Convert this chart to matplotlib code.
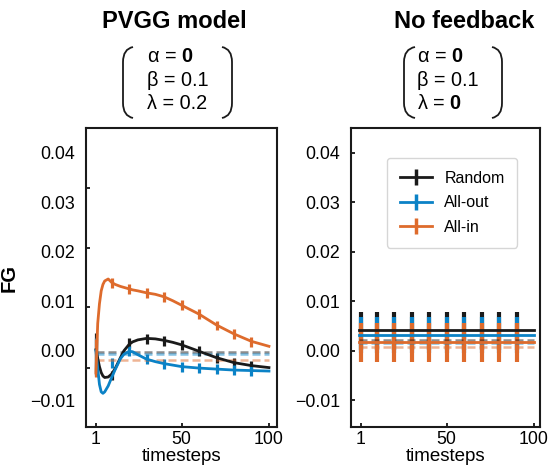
import matplotlib
matplotlib.use('Agg')
import matplotlib.pyplot as plt
from matplotlib.path import Path
from matplotlib.patches import PathPatch
from matplotlib.lines import Line2D

plt.rcParams.update({
    'font.family': 'Liberation Sans',
    'mathtext.fontset': 'custom',
    'mathtext.rm': 'Liberation Sans',
    'mathtext.bf': 'Liberation Sans:bold',
    'axes.linewidth': 1.5, 'axes.edgecolor': '#1a1a1a',
    'xtick.direction': 'in', 'ytick.direction': 'in',
    'xtick.major.size': 3, 'ytick.major.size': 3,
    'xtick.major.width': 1.2, 'ytick.major.width': 1.2,
    'xtick.labelsize': 12.8, 'ytick.labelsize': 12.8,
})

BLACK, BLUE, ORANGE = '#1a1a1a', '#0b82c6', '#de6b2c'
W, H = 549, 473

# PVGG model panel: model curves
t_model = [1, 2, 3, 4, 5, 6, 8, 10, 12, 15, 17, 20, 22, 25, 30, 35, 40, 45, 50, 60, 70, 80, 90, 100]
random_model = [0.0002, -0.0015, -0.0032, -0.0044, -0.0051, -0.0054, -0.0053, -0.0047, -0.0036, -0.0014,
                0.0000, 0.0013, 0.0018, 0.0022, 0.0025, 0.0024, 0.0021, 0.0017, 0.0012, -0.0001,
                -0.0014, -0.0024, -0.0030, -0.0034]
allout_model = [0.0000, -0.0035, -0.0068, -0.0083, -0.0086, -0.0083, -0.0071, -0.0054, -0.0038, -0.0016,
                -0.0007, -0.0001, -0.0002, -0.0008, -0.0017, -0.0022, -0.0026, -0.0029, -0.0032, -0.0035,
                -0.0037, -0.0039, -0.0040, -0.0041]
allin_model = [-0.0045, 0.0055, 0.0095, 0.0121, 0.0134, 0.0141, 0.0145, 0.0138, 0.0134, 0.0130,
               0.0128, 0.0125, 0.0123, 0.0121, 0.0117, 0.0114, 0.0109, 0.0101, 0.0092, 0.0074,
               0.0052, 0.0034, 0.0019, 0.0009]

# PVGG model panel: simulation means +/- error
t_sim = [1, 10, 20, 30, 40, 50, 60, 70, 80, 90]
random_sim = [-0.0003, -0.0050, 0.0016, 0.0024, 0.0019, 0.0012, -0.0001, -0.0015, -0.0024, -0.0030]
allout_sim = [-0.0012, -0.0025, -0.0001, -0.0017, -0.0026, -0.0032, -0.0035, -0.0037, -0.0039, -0.0040]
allin_sim = [-0.0015, 0.0136, 0.0124, 0.0117, 0.0109, 0.0092, 0.0074, 0.0051, 0.0034, 0.0018]
random_sim_err = [0.0039, 0.0010, 0.0010, 0.0010, 0.0010, 0.0010, 0.0010, 0.0010, 0.0010, 0.0010]
allout_sim_err = [0.0038, 0.0010, 0.0010, 0.0010, 0.0010, 0.0010, 0.0010, 0.0010, 0.0010, 0.0010]
allin_sim_err = [0.0038, 0.0010, 0.0010, 0.0010, 0.0010, 0.0010, 0.0010, 0.0010, 0.0010, 0.0010]
pvgg_baseline = {'Random': -0.0003, 'All-out': -0.0007, 'All-in': -0.0019}

# No feedback panel
t_flat = [0, 100]
nf_random_model = [0.0041, 0.0041]
nf_allout_model = [0.0031, 0.0031]
nf_allin_model = [0.0017, 0.0017]
nf_random_sim = [0.0040, 0.0040, 0.0040, 0.0040, 0.0040, 0.0040, 0.0040, 0.0040, 0.0040, 0.0040]
nf_allout_sim = [0.0032, 0.0032, 0.0032, 0.0032, 0.0032, 0.0032, 0.0032, 0.0032, 0.0032, 0.0032]
nf_allin_sim = [0.0017, 0.0017, 0.0017, 0.0017, 0.0017, 0.0017, 0.0017, 0.0017, 0.0017, 0.0017]
nf_random_err = [0.0039] * 10
nf_allout_err = [0.0037] * 10
nf_allin_err = [0.0039] * 10
nf_baseline = {'Random': 0.0021, 'All-out': 0.0015, 'All-in': 0.0008}

labels = ['Random', 'All-out', 'All-in']
colors = [BLACK, BLUE, ORANGE]

fig = plt.figure(figsize=(W / 100, H / 100), dpi=100)
axL = fig.add_axes([86 / W, 1 - 427 / H, 191 / W, 299 / H])
axR = fig.add_axes([351 / W, 1 - 427 / H, 189 / W, 299 / H])


def draw_panel(ax, t_line, lines, t_err, means, errs, base, ewidth, t_base):
    for m, e, c in zip(means, errs, colors):
        ax.errorbar(t_err, m, yerr=e, fmt='none', ecolor=c, elinewidth=ewidth, capsize=0, zorder=2)
    for lab, c in zip(labels, colors):
        ax.plot(t_base, [base[lab]] * len(t_base), color=c, alpha=0.5, lw=1.8,
                dashes=(3.2, 1.6), zorder=3)
    for y, c in zip(lines, colors):
        ax.plot(t_line, y, color=c, lw=2, zorder=4)


draw_panel(axL, t_model, [random_model, allout_model, allin_model], t_sim,
           [random_sim, allout_sim, allin_sim], [random_sim_err, allout_sim_err, allin_sim_err],
           pvgg_baseline, 2.3, [1, 100])
draw_panel(axR, t_flat, [nf_random_model, nf_allout_model, nf_allin_model], t_sim,
           [nf_random_sim, nf_allout_sim, nf_allin_sim], [nf_random_err, nf_allout_err, nf_allin_err],
           nf_baseline, 3.0, [0, 100])

yt = [-0.01, 0.0, 0.01, 0.02, 0.03, 0.04]
ytl = ['\u22120.01', '0.00', '0.01', '0.02', '0.03', '0.04']
for ax, xl in ((axL, (-4.7, 104.6)), (axR, (-4.7, 103.4))):
    ax.set_xlim(*xl)
    ax.set_ylim(-0.0154, 0.045)
    ax.set_xticks([1, 50, 100])
    ax.set_yticks(yt)
    ax.set_yticklabels(ytl)
    ax.tick_params(axis='y', pad=8)
    ax.tick_params(axis='x', pad=3)
    ax.set_xlabel('timesteps', fontsize=13.5, labelpad=0)

# left panel: tick marks sit off the label positions in the original
axL.tick_params(axis='y', which='major', length=0)
axL.set_yticks([-0.0035, 0.0088, 0.0207, 0.0329], minor=True)
axL.tick_params(axis='y', which='minor', length=3, width=1.2, direction='in')
axL.set_ylabel('FG', fontsize=14.5, fontweight='bold', labelpad=8)

handles = [Line2D([], [], color=c, lw=2, marker='|', markersize=11, markeredgewidth=2.5)
           for c in colors]
axR.legend(handles, labels, loc='upper left', bbox_to_anchor=(0.19, 0.90), borderaxespad=0,
           fontsize=11.5, numpoints=1, handlelength=2.0, handletextpad=0.8,
           borderpad=0.8, labelspacing=0.6)

# titles and parameter blocks
fig.text(174 / W, 1 - 21 / H, 'PVGG model', ha='center', va='center', fontsize=17, fontweight='bold')
fig.text(464 / W, 1 - 21 / H, 'No feedback', ha='center', va='center', fontsize=17, fontweight='bold')
params_left = ['α = $\\mathbf{0}$', 'β = 0.1', 'λ = 0.2']
params_right = ['α = $\\mathbf{0}$', 'β = 0.1', 'λ = $\\mathbf{0}$']
for x0, lines in ((147, params_left), (417, params_right)):
    for y0, s in zip((57, 81, 103.5), lines):
        fig.text(x0 / W, 1 - y0 / H, s, ha='left', va='center', fontsize=14.3)


def paren(xo, xi):
    # xo: x of the tips, xi: x of the straight part, in pixels
    pts = [(xo, 47), (xi, 49), (xi, 62), (xi, 103), (xi, 116), (xo, 118)]
    codes = [Path.MOVETO, Path.CURVE3, Path.CURVE3, Path.LINETO, Path.CURVE3, Path.CURVE3]
    verts = [(x / W, 1 - y / H) for x, y in pts]
    fig.add_artist(PathPatch(Path(verts, codes), fill=False, lw=1.3, color=BLACK,
                             transform=fig.transFigure))


paren(133, 123)
paren(222, 232)
paren(415, 404)
paren(492, 502)

fig.savefig('out.png', dpi=100)
